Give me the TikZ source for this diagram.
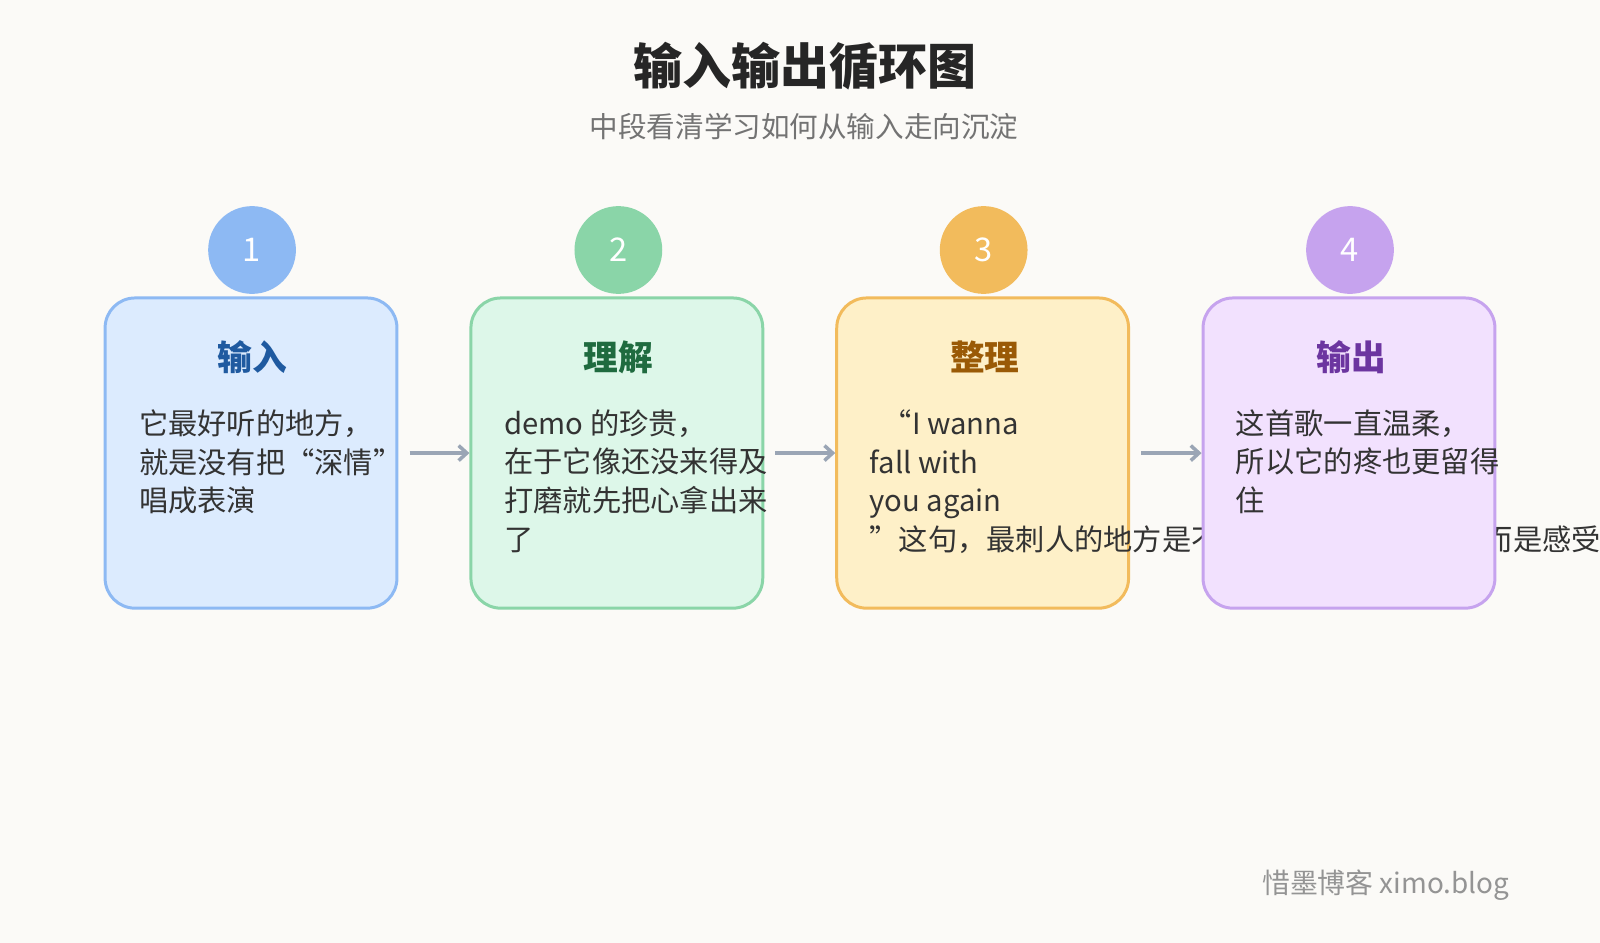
\documentclass[tikz,border=0pt]{standalone}
\usepackage{fontspec}
\setmainfont{Noto Sans CJK SC}
\usetikzlibrary{arrows.meta}
\definecolor{bg}{HTML}{FBFAF7}
\definecolor{f1}{HTML}{DCEBFE}\definecolor{s1}{HTML}{8DB9F3}\definecolor{h1}{HTML}{1F5AA0}
\definecolor{f2}{HTML}{DDF7E9}\definecolor{s2}{HTML}{8AD5A8}\definecolor{h2}{HTML}{1F6B3F}
\definecolor{f3}{HTML}{FEF0C8}\definecolor{s3}{HTML}{F2BB5C}\definecolor{h3}{HTML}{9A5A06}
\definecolor{f4}{HTML}{F2E1FE}\definecolor{s4}{HTML}{C6A3EE}\definecolor{h4}{HTML}{6C35A0}
\definecolor{arrc}{HTML}{9AA5B5}
\definecolor{txt}{HTML}{333333}
\tikzset{
 card/.style={draw=#1,line width=2.2pt,rounded corners=22pt,minimum width=214.5pt,minimum height=228pt,inner sep=0pt},
 num/.style={circle,fill=#1,minimum size=64.5pt,inner sep=0pt,text=white,font=\fontsize{24}{24}\selectfont},
 head/.style={text=#1,font=\fontsize{25.5}{28}\selectfont\bfseries},
 body/.style={anchor=north west,align=left,text=txt,inner sep=0pt,font=\fontsize{21.5}{28.5}\selectfont},
 arr/.style={draw=arrc,line width=2.6pt,-{Straight Barb[length=6pt,width=11pt]},shorten <=8.25pt}
}
\begin{document}
\begin{tikzpicture}[x=0.75pt,y=-0.75pt]
\path[fill=bg] (0,0) rectangle (1568,924);
\useasboundingbox (0,0) rectangle (1568,924);
\clip (0,0) rectangle (1568,924);
\node[font=\fontsize{36}{40}\selectfont\bfseries,text=black!85] (title) at (789,65) {输入输出循环图};
\node[font=\fontsize{21}{24}\selectfont,text=black!55] (sub) at (788,124) {中段看清学习如何从输入走向沉淀};
\coordinate (c1) at (246,444);\coordinate (c2) at (604.5,444);\coordinate (c3) at (963,444);\coordinate (c4) at (1322,444);
\node[card=s1,fill=f1] (b1) at (c1) {};
\node[card=s2,fill=f2] (b2) at (c2) {};
\node[card=s3,fill=f3] (b3) at (c3) {};
\draw[arr] (b1.east) -- (b2.west);
\draw[arr] (b2.east) -- (b3.west);
\node[num=s1] (n1) at (247,245) {1};
\node[num=s2] (n2) at (606,245) {2};
\node[num=s3] (n3) at (964,245) {3};
\node[head=h1] (t1) at (247,350) {输入};
\node[head=h2] (t2) at (606,350) {理解};
\node[head=h3] (t3) at (965,350) {整理};
\node[body] (x1) at (136,401) {它最好听的地方，\\就是没有把“深情”\\唱成表演};
\node[body] (x2) at (494,401) {demo 的珍贵，\\在于它像还没来得及\\打磨就先把心拿出来\\了};
\node[body] (x3) at (852,401) {\ \ “I wanna\\fall with\\you again\\”这句，最刺人的地方是不是它唱得有多悲伤，而是感受};
\node[card=s4,fill=f4] (b4) at (c4) {};
\draw[arr] (b3.east) -- (b4.west);
\node[num=s4] (n4) at (1323,245) {4};
\node[head=h4] (t4) at (1324,350) {输出};
\node[body] (x4) at (1211,401) {这首歌一直温柔，\\所以它的疼也更留得\\住};
\node[anchor=east,font=\fontsize{20.5}{24}\selectfont,text=black!42] (ft) at (1484,867) {惜墨博客 ximo.blog};
\end{tikzpicture}
\end{document}
